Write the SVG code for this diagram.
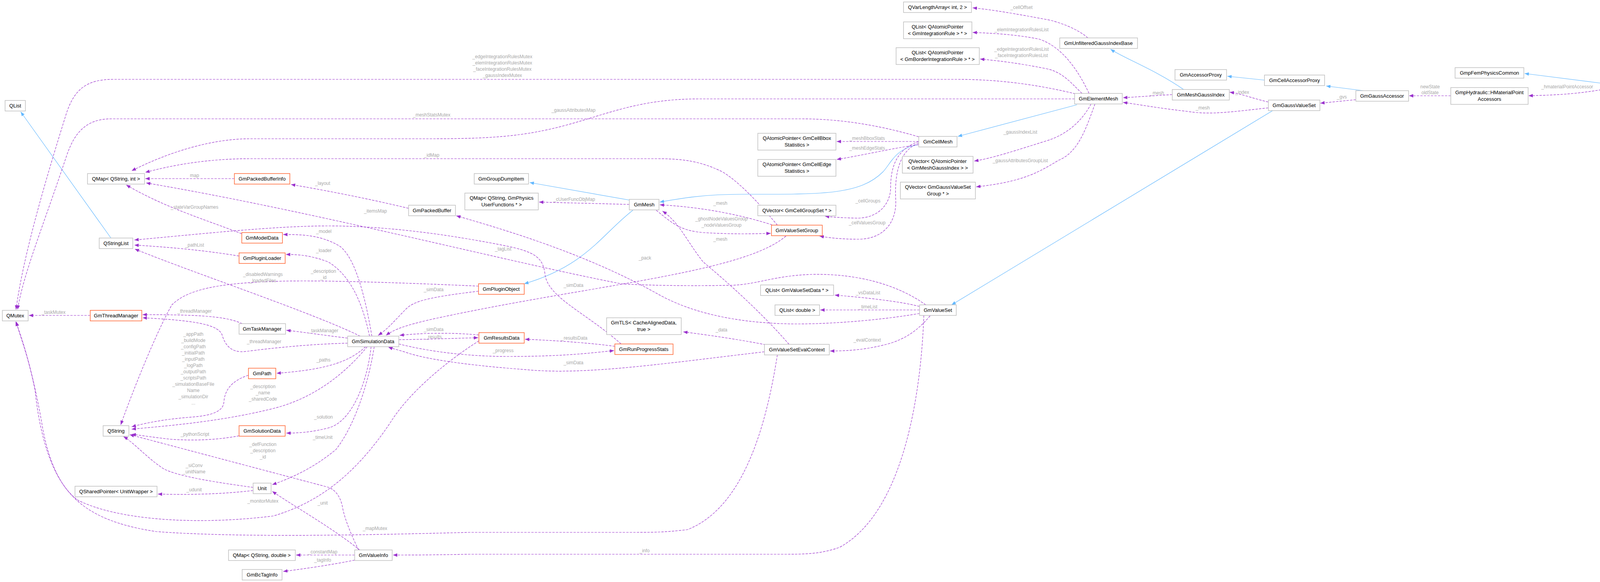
<svg xmlns="http://www.w3.org/2000/svg" width="4219" height="1489" viewBox="0 0 4219 1489">
<style>
.n rect{fill:#fff;stroke:#bfbfbf;stroke-width:1.5}
.o rect{fill:#fff;stroke:#ff6633;stroke-width:1.5}
.g rect{fill:#999;stroke:#666;stroke-width:1.5}
text{font-family:"Liberation Sans",Arial,sans-serif}
.n text,.o text,.g text{font-size:13px;fill:#000;text-anchor:middle}
.l{font-size:12px;fill:#a8a8a8;text-anchor:middle}
.m{fill:none;stroke:#9a32cd;stroke-width:1.2;stroke-dasharray:6,3;marker-end:url(#pa)}
.i{fill:none;stroke:#63b8ff;stroke-width:1.2;marker-end:url(#ba)}
</style>
<defs>
<marker id="pa" viewBox="0 0 10 8" refX="10" refY="4" markerWidth="11" markerHeight="9" markerUnits="userSpaceOnUse" orient="auto"><path d="M0,0L10,4L0,8z" fill="#9a32cd"/></marker>
<marker id="ba" viewBox="0 0 10 8" refX="10" refY="4" markerWidth="11" markerHeight="9" markerUnits="userSpaceOnUse" orient="auto"><path d="M0,0L10,4L0,8z" fill="#63b8ff"/></marker>
</defs>
<rect width="4219" height="1489" fill="#fff"/>
<g id="connectors">
<path class="i" d="M4108,214L3903,188"/>
<path class="i" d="M3490,232L3395,220"/>
<path class="i" d="M3237,205L3142,195"/>
<path class="i" d="M3030,229C2960,180 2880,150 2843,126"/>
<path class="i" d="M2757,268L2452,349"/>
<path class="i" d="M2352,370C2290,380 2280,420 2260,440C2200,500 2100,497 1900,497C1800,497 1740,508 1689,517"/>
<path class="i" d="M1612,512L1356,467"/>
<path class="i" d="M1620,538C1540,600 1500,680 1342,726"/>
<path class="i" d="M284,609L53,286"/>
<path class="i" d="M3258,283L2436,780"/>
<path class="m" d="M4108,228C4040,240 3990,243 3913,245"/>
<path class="m" d="M3714,245L3607,245"/>
<path class="m" d="M3471,255L3380,264"/>
<path class="m" d="M3247,261C3200,250 3180,240 3148,236"/>
<path class="m" d="M3247,276C3160,285 3100,295 3040,285C2960,276 2920,268 2875,262"/>
<path class="m" d="M3001,242C2950,245 2910,248 2875,250"/>
<path class="m" d="M2785,97C2760,75 2720,60 2690,52C2600,35 2540,25 2490,20"/>
<path class="m" d="M2788,239C2760,180 2720,120 2660,100C2600,88 2540,85 2490,83"/>
<path class="m" d="M2770,239C2740,210 2720,185 2680,176C2600,160 2550,155 2509,151"/>
<path class="m" d="M2793,266C2770,310 2730,345 2680,360C2600,385 2540,405 2494,412"/>
<path class="m" d="M2803,266C2780,330 2760,390 2710,410C2660,440 2620,465 2499,478"/>
<path class="m" d="M2753,240C2650,215 2550,203 2450,203L290,203C220,203 190,230 170,290C120,450 60,650 41,792"/>
<path class="m" d="M2751,253L1790,253C1640,253 1560,290 1450,320C1340,350 1250,355 1100,355L640,355C540,355 430,390 337,437"/>
<path class="m" d="M2352,350C2250,320 2150,304 2050,304L285,304C220,304 190,340 170,400C110,580 60,700 45,792"/>
<path class="m" d="M2352,362L2142,362"/>
<path class="m" d="M2352,370C2280,380 2220,395 2142,408"/>
<path class="m" d="M2352,362C2300,380 2280,420 2280,480C2280,520 2250,560 2190,558C2150,557 2125,555 2112,553"/>
<path class="m" d="M2352,366C2300,385 2290,450 2293,510C2296,560 2270,610 2200,612C2150,612 2120,608 2098,604"/>
<path class="m" d="M1611,523L1380,517"/>
<path class="m" d="M1990,576C1960,540 1900,470 1850,440C1790,410 1740,406 1680,406L640,406C540,406 450,420 372,441"/>
<path class="m" d="M1985,578C1900,550 1800,530 1689,524"/>
<path class="m" d="M1680,538C1720,570 1740,590 1800,595C1880,600 1930,598 1973,597"/>
<path class="m" d="M2012,604C1900,700 1500,730 1100,818C1040,832 1010,842 988,858"/>
<path class="m" d="M1225,745C1100,760 1060,770 1040,790C1010,820 995,840 968,858"/>
<path class="m" d="M1225,732C1000,722 800,716 700,720C560,725 480,740 440,780C400,850 340,1000 309,1087"/>
<path class="m" d="M922,860C800,800 500,700 345,637"/>
<path class="m" d="M952,860C935,760 910,660 870,630C820,600 770,600 725,600"/>
<path class="m" d="M946,860C925,760 890,700 840,670C800,655 770,651 732,651"/>
<path class="m" d="M612,655C520,640 430,632 344,627"/>
<path class="m" d="M619,598C520,560 420,530 323,473"/>
<path class="m" d="M600,457L372,457"/>
<path class="m" d="M1046,533C950,510 850,490 745,472"/>
<path class="m" d="M2370,780C2300,730 2200,700 2080,702C1980,705 1940,728 1870,730C1750,732 1650,730 1590,726C1300,670 800,540 374,468"/>
<path class="m" d="M1590,880C1500,800 1400,760 1395,700C1390,660 1370,645 1300,630C1100,590 950,578 840,578C700,578 500,600 344,614"/>
<path class="m" d="M890,865C830,858 780,850 733,845"/>
<path class="m" d="M620,828C580,810 520,805 365,805"/>
<path class="m" d="M890,878C800,880 700,890 631,899C590,905 575,880 568,855C555,830 500,820 365,813"/>
<path class="m" d="M231,807L74,807"/>
<path class="m" d="M936,887C900,920 850,945 708,955"/>
<path class="m" d="M636,960C590,975 575,1000 573,1030C570,1060 520,1065 480,1068C430,1072 380,1080 337,1092"/>
<path class="m" d="M940,887C880,960 800,1020 700,1045C560,1080 420,1090 337,1098"/>
<path class="m" d="M950,887C940,980 900,1080 840,1095C800,1105 770,1108 733,1108"/>
<path class="m" d="M612,1115C560,1125 500,1128 440,1124C400,1120 370,1115 337,1111"/>
<path class="m" d="M958,887C940,1000 900,1100 860,1150C800,1200 740,1225 697,1240"/>
<path class="m" d="M1226,872C1150,920 1050,1000 1000,1080C900,1230 800,1290 700,1320C500,1345 300,1330 200,1280C130,1230 100,1100 90,1000C70,900 50,860 42,823"/>
<path class="m" d="M1990,908C1960,1100 1900,1300 1760,1355C1700,1362 1680,1362 1600,1362L1200,1362C900,1370 600,1375 400,1360C200,1330 140,1250 110,1100C85,950 55,860 40,823"/>
<path class="m" d="M2365,807C2360,950 2330,1300 2150,1400C2100,1418 2060,1418 2000,1418L1200,1418C1100,1420 1050,1420 1006,1420"/>
<path class="m" d="M918,1407C895,1360 880,1320 876,1293C870,1270 860,1255 842,1247L332,1112"/>
<path class="m" d="M648,1247C560,1235 460,1220 420,1200C380,1175 340,1130 316,1117"/>
<path class="m" d="M648,1255C560,1265 480,1266 404,1264"/>
<path class="m" d="M922,1408C850,1350 760,1300 697,1257"/>
<path class="m" d="M908,1420L758,1420"/>
<path class="m" d="M908,1433C850,1445 780,1455 725,1462"/>
<path class="m" d="M2354,784C2300,770 2200,760 2137,755"/>
<path class="m" d="M2354,793L2100,793"/>
<path class="m" d="M2381,808C2350,845 2320,865 2280,878C2220,895 2170,898 2125,898"/>
<path class="m" d="M2354,802C2250,820 2100,832 2000,828C1850,822 1750,790 1680,750C1500,650 1300,590 1168,552"/>
<path class="m" d="M1960,882C1900,870 1820,858 1749,849"/>
<path class="m" d="M2020,881C1950,800 1860,720 1800,670C1760,620 1740,570 1696,540"/>
<path class="m" d="M1957,900C1700,930 1500,960 1350,946C1200,935 1100,920 1050,905C1020,895 1005,892 994,888"/>
<path class="m" d="M1021,880C1100,900 1200,912 1300,912C1450,912 1520,902 1572,897"/>
<path class="m" d="M1574,886C1500,876 1400,870 1344,868"/>
<path class="m" d="M1021,869C1100,868 1150,866 1224,864"/>
<path class="m" d="M1226,857C1150,850 1080,852 1023,858"/>
</g>
<g id="labels">
<text class="l" x="4012" y="226">_hmaterialPointAccessor</text>
<text class="l" x="3661" y="226">newState</text>
<text class="l" x="3661" y="241">oldState</text>
<text class="l" x="3435" y="252">_gvs</text>
<text class="l" x="3180" y="240">_index</text>
<text class="l" x="3079" y="280">_mesh</text>
<text class="l" x="2962" y="242">_mesh</text>
<text class="l" x="2615" y="23">_cellOffset</text>
<text class="l" x="2615" y="80">_elemIntegrationRulesList</text>
<text class="l" x="2615" y="130">_edgeIntegrationRulesList</text>
<text class="l" x="2615" y="146">_faceIntegrationRulesList</text>
<text class="l" x="2612" y="342">_gaussIndexList</text>
<text class="l" x="2612" y="415">_gaussAttributesGroupList</text>
<text class="l" x="1286" y="149">_edgeIntegrationRulesMutex</text>
<text class="l" x="1286" y="165">_elemIntegrationRulesMutex</text>
<text class="l" x="1286" y="181">_faceIntegrationRulesMutex</text>
<text class="l" x="1286" y="197">_gaussIndexMutex</text>
<text class="l" x="1468" y="286">_gaussAttributesMap</text>
<text class="l" x="1105" y="298">_meshStatsMutex</text>
<text class="l" x="2220" y="358">_meshBboxStats</text>
<text class="l" x="2220" y="383">_meshEdgeStats</text>
<text class="l" x="2222" y="518">_cellGroups</text>
<text class="l" x="2220" y="574">_cellValuesGroup</text>
<text class="l" x="1470" y="514">_cUserFuncObjMap</text>
<text class="l" x="1105" y="401">_idMap</text>
<text class="l" x="1844" y="524">_mesh</text>
<text class="l" x="1847" y="564">_ghostNodeValuesGroup</text>
<text class="l" x="1847" y="580">_nodeValuesGroup</text>
<text class="l" x="1844" y="616">_mesh</text>
<text class="l" x="1468" y="734">_simData</text>
<text class="l" x="1110" y="745">_simData</text>
<text class="l" x="828" y="698">_description</text>
<text class="l" x="828" y="714">_id</text>
<text class="l" x="673" y="706">_disabledWarnings</text>
<text class="l" x="673" y="722">_loadedFiles</text>
<text class="l" x="829" y="596">_model</text>
<text class="l" x="829" y="645">_loader</text>
<text class="l" x="498" y="631">_pathList</text>
<text class="l" x="498" y="534">_stateVarGroupNames</text>
<text class="l" x="498" y="453">map</text>
<text class="l" x="826" y="473">_layout</text>
<text class="l" x="961" y="544">_itemsMap</text>
<text class="l" x="1288" y="641">_tagList</text>
<text class="l" x="828" y="850">_taskManager</text>
<text class="l" x="498" y="800">_threadManager</text>
<text class="l" x="676" y="878">_threadManager</text>
<text class="l" x="137" y="803">_taskMutex</text>
<text class="l" x="828" y="925">_paths</text>
<text class="l" x="495" y="859">_appPath</text>
<text class="l" x="495" y="875">_buildMode</text>
<text class="l" x="495" y="891">_configPath</text>
<text class="l" x="495" y="907">_initialPath</text>
<text class="l" x="495" y="923">_inputPath</text>
<text class="l" x="495" y="939">_logPath</text>
<text class="l" x="495" y="955">_outputPath</text>
<text class="l" x="495" y="971">_scriptsPath</text>
<text class="l" x="495" y="987">_simulationBaseFile</text>
<text class="l" x="495" y="1003">Name</text>
<text class="l" x="495" y="1019">_simulationDir</text>
<text class="l" x="495" y="1035">...</text>
<text class="l" x="673" y="993">_description</text>
<text class="l" x="673" y="1009">_name</text>
<text class="l" x="673" y="1025">_sharedCode</text>
<text class="l" x="828" y="1071">_solution</text>
<text class="l" x="499" y="1115">_pythonScript</text>
<text class="l" x="826" y="1123">_timeUnit</text>
<text class="l" x="673" y="1141">_defFunction</text>
<text class="l" x="673" y="1157">_description</text>
<text class="l" x="673" y="1173">_id</text>
<text class="l" x="497" y="1195">_siConv</text>
<text class="l" x="497" y="1211">_unitName</text>
<text class="l" x="497" y="1257">_udunit</text>
<text class="l" x="673" y="1286">_monitorMutex</text>
<text class="l" x="826" y="1291">_unit</text>
<text class="l" x="960" y="1356">_mapMutex</text>
<text class="l" x="1650" y="1413">_info</text>
<text class="l" x="826" y="1416">_constantMap</text>
<text class="l" x="826" y="1437">_tagInfo</text>
<text class="l" x="2222" y="753">_vsDataList</text>
<text class="l" x="2222" y="789">_timeList</text>
<text class="l" x="2220" y="874">_evalContext</text>
<text class="l" x="1651" y="664">_pack</text>
<text class="l" x="1847" y="848">_data</text>
<text class="l" x="1468" y="932">_simData</text>
<text class="l" x="1288" y="901">_progress</text>
<text class="l" x="1470" y="869">_resultsData</text>
<text class="l" x="1110" y="866">_results</text>
<text class="l" x="1110" y="847">_simData</text>
</g>
<g id="GmpHydraulic" class="g"><rect x="4108" y="202" width="105" height="28"/><text x="4160" y="221">GmpHydraulic</text></g>
<g id="GmpFemPhysicsCommon" class="n"><rect x="3725" y="173" width="176" height="27"/><text x="3813" y="191">GmpFemPhysicsCommon</text></g>
<g id="HMaterialPointAccessors" class="n"><rect x="3714" y="224" width="198" height="43"/><text x="3813" y="241">GmpHydraulic::HMaterialPoint</text><text x="3813" y="258">Accessors</text></g>
<g id="GmGaussAccessor" class="n"><rect x="3471" y="232" width="135" height="27"/><text x="3538" y="250">GmGaussAccessor</text></g>
<g id="GmCellAccessorProxy" class="n"><rect x="3237" y="192" width="154" height="27"/><text x="3314" y="210">GmCellAccessorProxy</text></g>
<g id="GmAccessorProxy" class="n"><rect x="3008" y="178" width="132" height="27"/><text x="3074" y="196">GmAccessorProxy</text></g>
<g id="GmGaussValueSet" class="n"><rect x="3247" y="256" width="132" height="27"/><text x="3313" y="274">GmGaussValueSet</text></g>
<g id="GmMeshGaussIndex" class="n"><rect x="3001" y="229" width="146" height="27"/><text x="3074" y="247">GmMeshGaussIndex</text></g>
<g id="GmUnfilteredGaussIndexBase" class="n"><rect x="2713" y="97" width="199" height="27"/><text x="2812" y="115">GmUnfilteredGaussIndexBase</text></g>
<g id="GmElementMesh" class="n"><rect x="2751" y="239" width="122" height="27"/><text x="2812" y="257">GmElementMesh</text></g>
<g id="QVarLengthArray" class="n"><rect x="2313" y="5" width="174" height="27"/><text x="2400" y="23">QVarLengthArray&lt; int, 2 &gt;</text></g>
<g id="QListIntegrationRule" class="n"><rect x="2313" y="56" width="175" height="43"/><text x="2400" y="73">QList&lt; QAtomicPointer</text><text x="2400" y="90">&lt; GmIntegrationRule &gt; * &gt;</text></g>
<g id="QListBorderRule" class="n"><rect x="2294" y="122" width="213" height="43"/><text x="2400" y="139">QList&lt; QAtomicPointer</text><text x="2400" y="156">&lt; GmBorderIntegrationRule &gt; * &gt;</text></g>
<g id="GmCellMesh" class="n"><rect x="2352" y="349" width="98" height="27"/><text x="2401" y="367">GmCellMesh</text></g>
<g id="QVectorMeshGaussIndex" class="n"><rect x="2310" y="400" width="181" height="43"/><text x="2400" y="417">QVector&lt; QAtomicPointer</text><text x="2400" y="434">&lt; GmMeshGaussIndex &gt; &gt;</text></g>
<g id="QVectorGaussValueSetGroup" class="n"><rect x="2305" y="466" width="192" height="43"/><text x="2401" y="483">QVector&lt; GmGaussValueSet</text><text x="2401" y="500">Group * &gt;</text></g>
<g id="QAtomicBbox" class="n"><rect x="1940" y="341" width="200" height="43"/><text x="2040" y="358">QAtomicPointer&lt; GmCellBbox</text><text x="2040" y="375">Statistics &gt;</text></g>
<g id="QAtomicEdge" class="n"><rect x="1940" y="408" width="200" height="43"/><text x="2040" y="425">QAtomicPointer&lt; GmCellEdge</text><text x="2040" y="442">Statistics &gt;</text></g>
<g id="QVectorCellGroupSet" class="n"><rect x="1940" y="525" width="200" height="27"/><text x="2040" y="543">QVector&lt; GmCellGroupSet * &gt;</text></g>
<g id="GmValueSetGroup" class="o"><rect x="1975" y="576" width="130" height="27"/><text x="2040" y="594">GmValueSetGroup</text></g>
<g id="QListValueSetData" class="n"><rect x="1947" y="729" width="187" height="27"/><text x="2040" y="747">QList&lt; GmValueSetData * &gt;</text></g>
<g id="QListDouble" class="n"><rect x="1984" y="780" width="114" height="27"/><text x="2041" y="798">QList&lt; double &gt;</text></g>
<g id="GmValueSet" class="n"><rect x="2354" y="780" width="94" height="27"/><text x="2401" y="798">GmValueSet</text></g>
<g id="GmValueSetEvalContext" class="n"><rect x="1957" y="881" width="166" height="27"/><text x="2040" y="899">GmValueSetEvalContext</text></g>
<g id="GmTLS" class="n"><rect x="1553" y="813" width="191" height="43"/><text x="1648" y="830">GmTLS&lt; CacheAlignedData,</text><text x="1648" y="847">true &gt;</text></g>
<g id="GmRunProgressStats" class="o"><rect x="1574" y="880" width="149" height="27"/><text x="1648" y="898">GmRunProgressStats</text></g>
<g id="GmResultsData" class="o"><rect x="1226" y="851" width="116" height="27"/><text x="1284" y="869">GmResultsData</text></g>
<g id="GmPluginObject" class="o"><rect x="1225" y="726" width="117" height="27"/><text x="1283" y="744">GmPluginObject</text></g>
<g id="GmMesh" class="n"><rect x="1611" y="510" width="76" height="27"/><text x="1649" y="528">GmMesh</text></g>
<g id="GmGroupDumpItem" class="n"><rect x="1214" y="444" width="139" height="27"/><text x="1283" y="462">GmGroupDumpItem</text></g>
<g id="QMapUserFunctions" class="n"><rect x="1190" y="494" width="188" height="43"/><text x="1284" y="511">QMap&lt; QString, GmPhysics</text><text x="1284" y="528">UserFunctions * &gt;</text></g>
<g id="GmPackedBuffer" class="n"><rect x="1046" y="525" width="120" height="27"/><text x="1106" y="543">GmPackedBuffer</text></g>
<g id="GmSimulationData" class="n"><rect x="890" y="860" width="131" height="27"/><text x="955" y="878">GmSimulationData</text></g>
<g id="QList" class="n"><rect x="13" y="257" width="52" height="27"/><text x="39" y="275">QList</text></g>
<g id="QMapStringInt" class="n"><rect x="224" y="444" width="146" height="27"/><text x="297" y="462">QMap&lt; QString, int &gt;</text></g>
<g id="GmPackedBufferInfo" class="o"><rect x="600" y="444" width="142" height="27"/><text x="671" y="462">GmPackedBufferInfo</text></g>
<g id="QStringList" class="n"><rect x="254" y="609" width="86" height="27"/><text x="297" y="627">QStringList</text></g>
<g id="GmModelData" class="o"><rect x="619" y="595" width="104" height="27"/><text x="671" y="613">GmModelData</text></g>
<g id="GmPluginLoader" class="o"><rect x="612" y="647" width="118" height="27"/><text x="671" y="665">GmPluginLoader</text></g>
<g id="QMutex" class="n"><rect x="6" y="794" width="66" height="27"/><text x="39" y="812">QMutex</text></g>
<g id="GmThreadManager" class="o"><rect x="231" y="794" width="132" height="27"/><text x="297" y="812">GmThreadManager</text></g>
<g id="GmTaskManager" class="n"><rect x="612" y="828" width="119" height="27"/><text x="671" y="846">GmTaskManager</text></g>
<g id="GmPath" class="o"><rect x="636" y="942" width="70" height="27"/><text x="671" y="960">GmPath</text></g>
<g id="QString" class="n"><rect x="264" y="1089" width="66" height="27"/><text x="297" y="1107">QString</text></g>
<g id="GmSolutionData" class="o"><rect x="612" y="1089" width="118" height="27"/><text x="671" y="1107">GmSolutionData</text></g>
<g id="Unit" class="n"><rect x="648" y="1236" width="46" height="27"/><text x="671" y="1254">Unit</text></g>
<g id="QSharedPointer" class="n"><rect x="192" y="1244" width="210" height="27"/><text x="297" y="1262">QSharedPointer&lt; UnitWrapper &gt;</text></g>
<g id="QMapStringDouble" class="n"><rect x="585" y="1407" width="171" height="27"/><text x="670" y="1425">QMap&lt; QString, double &gt;</text></g>
<g id="GmValueInfo" class="n"><rect x="908" y="1407" width="96" height="27"/><text x="956" y="1425">GmValueInfo</text></g>
<g id="GmBcTagInfo" class="n"><rect x="620" y="1457" width="102" height="27"/><text x="671" y="1475">GmBcTagInfo</text></g>
</svg>
